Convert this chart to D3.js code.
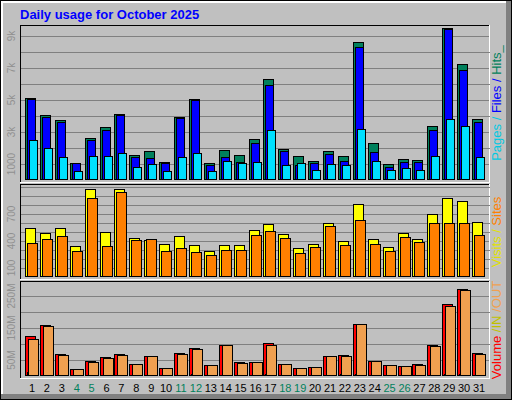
<!DOCTYPE html>
<html><head><meta charset="utf-8">
<script src="https://cdn.jsdelivr.net/npm/d3@7"></script>
<style>body{margin:0;background:#fff}svg{display:block}</style>
</head><body><svg id="c" width="512" height="400"></svg>
<script>
const days = d3.range(1, 32);
const weekends = [4,5,11,12,18,19,25,26];
const hits  = [5100,4040,3750,1040,2620,3290,4100,1540,1790,1100,3920,5040,1040,1850,1540,2540,6290,1920,1480,1170,1790,1480,8600,2290,980,1290,1230,3350,9480,7230,3790];
const files = [5060,3960,3600,1040,2480,3100,4040,1440,1350,1040,3850,4980,915,1440,1100,2290,5920,1790,915,1040,1600,1170,8290,1730,790,1100,1100,3100,9420,6850,3600];
const pages = [2500,1980,1440,540,1500,1500,1660,790,980,540,1440,1660,540,1170,1040,1100,3100,915,1040,600,980,915,3170,1170,600,730,600,1480,3790,3350,1420];
const visits = [544,489,544,344,978,500,978,433,411,367,456,356,289,356,356,522,589,478,322,367,600,400,811,422,333,489,422,700,878,844,611];
const sites  = [378,422,456,292,878,344,944,411,422,292,322,278,244,300,300,467,511,433,267,333,567,356,633,367,289,444,389,600,600,600,467];
const volume = [124,158,70,21,48,58,70,39,64,24,73,88,33,97,45,45,103,39,24,27,64,67,164,48,33,30,36,97,224,273,73];
const volIn  = [12,2,1,1,1,1,1,1,1,1,1,6,1,1,1,1,6,1,1,1,1,6,6,1,1,1,1,1,6,6,1];
const volOut = [115,155,67,21,45,55,67,36,64,24,70,85,33,97,42,45,97,39,24,27,61,61,161,48,33,30,33,94,218,270,70];
const topTicks = [[1000,"1000"],[3000,"3k"],[5000,"5k"],[7000,"7k"],[9000,"9k"]];
const midTicks = [[100,"100"],[400,"400"],[700,"700"]];
const botTicks = [[50,"50M"],[150,"150M"],[250,"250M"]];

const svg = d3.select("#c").attr("shape-rendering","crispEdges");
// frame
svg.append("rect").attr("x",0).attr("y",0).attr("width",512).attr("height",400).attr("fill","#000");
svg.append("rect").attr("x",1).attr("y",1).attr("width",510).attr("height",398).attr("fill","#808080");
svg.append("rect").attr("x",1).attr("y",1).attr("width",505).attr("height",393).attr("fill","#fff");
svg.append("rect").attr("x",3).attr("y",3).attr("width",503).attr("height",391).attr("fill","#c0c0c0");

svg.append("text").attr("x",20).attr("y",19).attr("fill","#0000ff")
  .attr("font-family","Liberation Sans, Arial, sans-serif").attr("font-weight","bold").attr("font-size",13)
  .text("Daily usage for October 2025");

const x = d3.scaleLinear().domain([1,31]).range([32,479]);
const L=20, R=490;

function panel(y0, y1, y, ticks) {
  svg.append("rect").attr("x",L).attr("y",y0).attr("width",R-L).attr("height",y1-y0).attr("fill","#c0c0c0");
  svg.selectAll(null).data(ticks.map(t=>t[0]).concat(grids(y,y0))).enter().append("line")
    .attr("x1",L).attr("x2",R).attr("y1",d=>Math.round(y(d))+0.5).attr("y2",d=>Math.round(y(d))+0.5)
    .attr("stroke","#808080");
  svg.append("path").attr("d",`M${L+0.5},${y1}V${y0+0.5}H${R}`).attr("stroke","#000").attr("fill","none");
  svg.append("path").attr("d",`M${L},${y1-0.5}H${R-0.5}V${y0}`).attr("stroke","#fff").attr("fill","none");
  svg.selectAll(null).data(ticks).enter().append("text")
    .attr("transform",d=>`translate(15,${y(d[0])}) rotate(-90)`).attr("text-anchor","middle")
    .attr("fill","#909090").attr("font-family","Liberation Sans, Arial, sans-serif").attr("font-size",10)
    .text(d=>d[1]);
}
function grids(y, y0){ // all gridlines at half-step between labelled ones
  return [];
}
function bars(vals, y, dx, w, color) {
  svg.selectAll(null).data(days).enter().append("rect")
    .attr("x",d=>Math.round(x(d))+dx+0.5).attr("width",w)
    .attr("y",d=>Math.round(y(vals[d-1]))+0.5)
    .attr("height",d=>Math.max(0,y.range()[0]-Math.round(y(vals[d-1]))-1))
    .attr("fill",color).attr("stroke","#000");
}
function vlabel(parts, cx, cy) {
  const t = svg.append("text").attr("transform",`translate(${cx},${cy}) rotate(-90)`).attr("text-anchor","middle")
    .attr("font-family","Liberation Sans, Arial, sans-serif").attr("font-size",13);
  parts.forEach(p=>t.append("tspan").attr("fill",p[1]).text(p[0]));
}

// top
const yTop = d3.scaleLinear().domain([0,1000]).range([180,164]);
panel(25,183,yTop,topTicks);
svg.selectAll(null).data(d3.range(2000,10000,2000)).enter().append("line")
  .attr("x1",L+1).attr("x2",R).attr("y1",d=>Math.round(yTop(d))+0.5).attr("y2",d=>Math.round(yTop(d))+0.5).attr("stroke","#808080");
bars(hits,yTop,-7,10,"#00805c");
bars(files,yTop,-5,8,"#0000ff");
bars(pages,yTop,-3,8,"#00e0ff");
vlabel([["Pages","#00c8e0"],[" / ","#00c8e0"],["Files","#0000ff"],[" / ","#0000ff"],["Hits_","#00805c"]],501,103);

// middle
const yMid = d3.scaleLinear().domain([0,100]).range([277,268]);
panel(184,280,yMid,midTicks);
svg.selectAll(null).data([200,300,500,600,800,900,1000]).enter().append("line")
  .attr("x1",L+1).attr("x2",R).attr("y1",d=>Math.round(yMid(d))+0.5).attr("y2",d=>Math.round(yMid(d))+0.5).attr("stroke","#808080");
bars(visits,yMid,-7,10,"#ffff00");
bars(sites,yMid,-5,10,"#ff8000");
vlabel([["Visits","#e0e000"],[" / ","#e0e000"],["Sites","#ff8000"]],501,232);

// bottom
const yBot = d3.scaleLinear().domain([0,50]).range([376,360]);
panel(281,379,yBot,botTicks);
svg.selectAll(null).data([100,200]).enter().append("line")
  .attr("x1",L+1).attr("x2",R).attr("y1",d=>Math.round(yBot(d))+0.5).attr("y2",d=>Math.round(yBot(d))+0.5).attr("stroke","#808080");
bars(volume,yBot,-7,10,"#ff0000");
bars(volIn,yBot,-5,2,"#e0e040");
bars(volOut,yBot,-4,10,"#f0a050");
vlabel([["Volume","#ff0000"],[" /IN","#c0c000"],[" /OUT","#f0a050"]],501,330);

svg.selectAll(null).data(days).enter().append("text")
  .attr("x",d=>x(d)).attr("y",392).attr("text-anchor","middle")
  .attr("font-family","Liberation Sans, Arial, sans-serif").attr("font-size",11)
  .attr("fill",d=>weekends.includes(d)?"#00805c":"#000").text(d=>d);
</script></body></html>
